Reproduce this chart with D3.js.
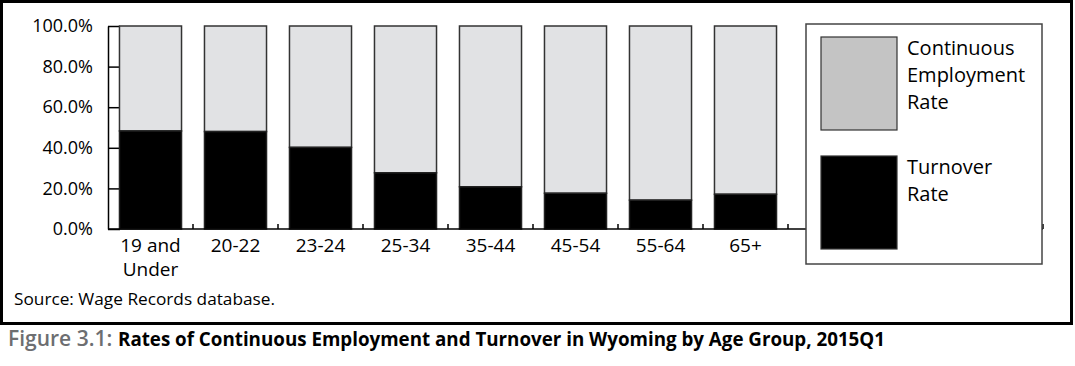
<!DOCTYPE html>
<html>
<head>
<meta charset="utf-8">
<script src="https://cdn.jsdelivr.net/npm/d3@7"></script>
<style>
  body { margin: 0; background: #fff; }
  text { font-family: "Open Sans", sans-serif; fill: #000; }
</style>
</head>
<body>
<svg id="chart" width="1075" height="366"></svg>
<script>
'use strict';

// data
const ageGroups    = ['19 and\nUnder', '20-22', '23-24', '25-34', '35-44', '45-54', '55-64', '65+'];
const turnoverRate = [0.483, 0.480, 0.402, 0.277, 0.208, 0.176, 0.142, 0.171];
const continuousRate = turnoverRate.map(t => 1 - t); // stacks to 100%
const yTicks       = [0, 0.2, 0.4, 0.6, 0.8, 1.0];
const legendLabels = [['Continuous', 'Employment', 'Rate'], ['Turnover', 'Rate']];

const SLOTS = 11; // category axis runs on under the legend (3 empty slots)

const svg = d3.select('#chart');

// outer frame
svg.append('rect')
  .attr('x', 1.5).attr('y', 1.5)
  .attr('width', 1070).attr('height', 322)
  .attr('fill', 'none').attr('stroke', '#000').attr('stroke-width', 3);

const x = d3.scaleBand()
  .domain(d3.range(SLOTS))
  .range([108, 1043])
  .paddingInner(0.27)
  .paddingOuter(0.135);

const y = d3.scaleLinear().domain([0, 1]).range([229, 26]);

// y axis, ticks pointing inward
const yAxis = svg.append('g')
  .attr('transform', 'translate(108,0)')
  .call(d3.axisLeft(y).tickValues(yTicks).tickFormat(d3.format('.1%'))
    .tickSizeInner(-12).tickSizeOuter(0).tickPadding(15));
yAxis.select('.domain').attr('stroke', '#000').attr('stroke-width', 1.5);
yAxis.selectAll('.tick line').attr('stroke', '#000').attr('stroke-width', 1.5);
yAxis.selectAll('.tick text')
  .style('font-family', '"Open Sans", sans-serif').style('font-size', '18px').attr('fill', '#000');

// bars
const bars = svg.append('g').selectAll('g')
  .data(ageGroups.map((g, i) => ({g, i, t: turnoverRate[i], c: continuousRate[i]})))
  .join('g');

bars.append('rect')
  .attr('x', d => x(d.i))
  .attr('width', x.bandwidth())
  .attr('y', d => y(d.t + d.c))
  .attr('height', d => y(d.t) - y(d.t + d.c))
  .attr('fill', '#e1e2e4').attr('stroke', '#333').attr('stroke-width', 1.5);

bars.append('rect')
  .attr('x', d => x(d.i))
  .attr('width', x.bandwidth())
  .attr('y', d => y(d.t))
  .attr('height', d => y(0) - y(d.t))
  .attr('fill', '#000').attr('stroke', '#222').attr('stroke-width', 1.5);

// category axis: line + ticks between categories
const xAxis = svg.append('g');
xAxis.append('line')
  .attr('x1', x.range()[0]).attr('x2', x.range()[1])
  .attr('y1', y(0)).attr('y2', y(0))
  .attr('stroke', '#000').attr('stroke-width', 1.5);
xAxis.selectAll('line.tk')
  .data(d3.range(1, SLOTS + 1))
  .join('line').attr('class', 'tk')
  .attr('x1', i => x.range()[0] + i * x.step())
  .attr('x2', i => x.range()[0] + i * x.step())
  .attr('y1', y(0)).attr('y2', y(0) - 5)
  .attr('stroke', '#000').attr('stroke-width', 1.5);

xAxis.selectAll('text')
  .data(ageGroups)
  .join('text')
  .attr('text-anchor', 'middle')
  .attr('x', (d, i) => x(i) + x.bandwidth() / 2)
  .attr('y', 252)
  .style('font-size', '19px')
  .selectAll('tspan')
  .data(d => d.split('\n'))
  .join('tspan')
  .attr('x', function() { return this.parentNode.getAttribute('x'); })
  .attr('dy', (d, i) => i === 0 ? 0 : 24)
  .text(d => d);

// legend
const legend = svg.append('g');
legend.append('rect')
  .attr('x', 806).attr('y', 24).attr('width', 236).attr('height', 240)
  .attr('fill', '#fff').attr('stroke', '#444').attr('stroke-width', 1.5);

const swatches = [{fill: '#c4c4c4', y: 37}, {fill: '#000', y: 156}];
swatches.forEach((s, k) => {
  legend.append('rect')
    .attr('x', 821).attr('y', s.y).attr('width', 76).attr('height', 93)
    .attr('fill', s.fill).attr('stroke', '#333').attr('stroke-width', 1.2);
  legend.append('text')
    .attr('x', 907).attr('y', s.y + 18)
    .style('font-size', '20px')
    .selectAll('tspan')
    .data(legendLabels[k])
    .join('tspan')
    .attr('x', 907)
    .attr('dy', (d, i) => i === 0 ? 0 : 27)
    .text(d => d);
});

// source & caption
svg.append('text')
  .attr('x', 14).attr('y', 305)
  .style('font-size', '16px')
  .attr('textLength', 261).attr('lengthAdjust', 'spacingAndGlyphs')
  .text('Source: Wage Records database.');

const cap = svg.append('text')
  .attr('y', 346)
  .style('font-size', '19px');
cap.append('tspan').attr('x', 8).attr('fill', '#6d6e71')
  .attr('font-weight', 600).style('font-size', '21px')
  .text('Figure 3.1:');
cap.append('tspan').attr('x', 118).attr('font-weight', 'bold')
  .attr('textLength', 767).attr('lengthAdjust', 'spacingAndGlyphs')
  .text('Rates of Continuous Employment and Turnover in Wyoming by Age Group, 2015Q1');
</script>
</body>
</html>
